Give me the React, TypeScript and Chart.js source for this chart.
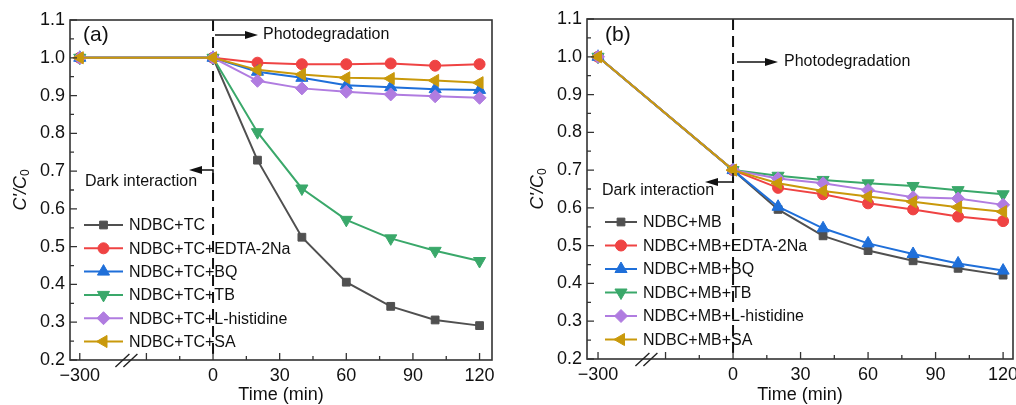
import React, { useEffect, useRef } from 'react';
import { Chart, registerables } from 'chart.js';
Chart.register(...registerables);

const FONT = '"Liberation Sans", Arial, Helvetica, sans-serif';

// sampling times (min); -300 sits on the far side of the axis break
const times = [-300, 0, 20, 40, 60, 80, 100, 120];
const BREAK_AT = -60; // axis position used for t = -300
const xTickPositions = [-60, -30, 0, 30, 60, 90, 120];
const xTickLabels = ['\u2212300', '', '0', '30', '60', '90', '120'];
const xMinorPositions = [-15, 15, 45, 75, 105];
const yTickValues = [0.2, 0.3, 0.4, 0.5, 0.6, 0.7, 0.8, 0.9, 1.0, 1.1];
const yTickLabels = ['0.2', '0.3', '0.4', '0.5', '0.6', '0.7', '0.8', '0.9', '1.0', '1.1'];
const yMinorValues = [0.25, 0.35, 0.45, 0.55, 0.65, 0.75, 0.85, 0.95, 1.05];

// panel (a): TC
const tcLabels = ['NDBC+TC', 'NDBC+TC+EDTA-2Na', 'NDBC+TC+BQ', 'NDBC+TC+TB', 'NDBC+TC+L-histidine', 'NDBC+TC+SA'];
const tcNDBC = [1.0, 1.0, 0.729, 0.525, 0.406, 0.342, 0.306, 0.291];
const tcEDTA = [1.0, 1.0, 0.987, 0.983, 0.983, 0.985, 0.979, 0.983];
const tcBQ = [1.0, 1.0, 0.963, 0.947, 0.927, 0.922, 0.917, 0.915];
const tcTB = [1.0, 1.0, 0.803, 0.654, 0.571, 0.522, 0.489, 0.462];
const tcLH = [1.0, 1.0, 0.939, 0.919, 0.910, 0.903, 0.898, 0.894];
const tcSA = [1.0, 1.0, 0.968, 0.956, 0.947, 0.945, 0.940, 0.934];

// panel (b): MB
const mbLabels = ['NDBC+MB', 'NDBC+MB+EDTA-2Na', 'NDBC+MB+BQ', 'NDBC+MB+TB', 'NDBC+MB+L-histidine', 'NDBC+MB+SA'];
const mbNDBC = [1.0, 0.70, 0.596, 0.526, 0.487, 0.460, 0.440, 0.422];
const mbEDTA = [1.0, 0.70, 0.653, 0.636, 0.612, 0.596, 0.577, 0.565];
const mbBQ = [1.0, 0.70, 0.603, 0.546, 0.506, 0.478, 0.453, 0.434];
const mbTB = [1.0, 0.70, 0.685, 0.674, 0.665, 0.658, 0.647, 0.636];
const mbLH = [1.0, 0.70, 0.678, 0.665, 0.647, 0.628, 0.625, 0.608];
const mbSA = [1.0, 0.70, 0.665, 0.645, 0.630, 0.616, 0.602, 0.590];

const colors = ['#505050', '#EF4343', '#1F6FD9', '#3AA86A', '#B07CE0', '#C9990B'];
const styles = ['rect', 'circle', 'triangle', 'triangle', 'rectRot', 'triangle'];
const rotations = [0, 0, 0, 180, 0, 270];
const radii = [5.5, 5.5, 7, 7, 6.5, 7];

const toAxis = (t: number) => (t < 0 ? BREAK_AT : t);

function drawMarker(ctx: CanvasRenderingContext2D, style: string, x: number, y: number, r: number, rot: number) {
  ctx.beginPath();
  if (style === 'circle') ctx.arc(x, y, r, 0, Math.PI * 2);
  else if (style === 'rect') {
    const s = r * Math.SQRT1_2;
    ctx.rect(x - s, y - s, 2 * s, 2 * s);
  } else if (style === 'rectRot') {
    ctx.moveTo(x, y - r); ctx.lineTo(x + r, y); ctx.lineTo(x, y + r); ctx.lineTo(x - r, y); ctx.closePath();
  } else {
    let a = (rot * Math.PI) / 180;
    ctx.moveTo(x + Math.sin(a) * r, y - Math.cos(a) * r);
    for (let k = 0; k < 2; k++) {
      a += (2 * Math.PI) / 3;
      ctx.lineTo(x + Math.sin(a) * r, y - Math.cos(a) * r);
    }
    ctx.closePath();
  }
  ctx.fill();
  ctx.stroke();
}

function arrowHead(ctx: CanvasRenderingContext2D, tipX: number, y: number, dir: number) {
  ctx.beginPath();
  ctx.moveTo(tipX, y);
  ctx.lineTo(tipX - dir * 13, y - 4);
  ctx.lineTo(tipX - dir * 13, y + 4);
  ctx.closePath();
  ctx.fill();
}

type PanelCfg = {
  labels: string[];
  series: number[][];
  yAxisW: number; xAxisH: number; padT: number; padR: number;
  xMin: number; xMax: number;
  legend: { x0: number; x1: number; tx: number; y0: number; dy: number };
  tag: { text: string; x: number; y: number };
  photo: { y: number; x0: number; x1: number; tx: number };
  dark: { tx: number; ty: number; ay: number; tip: number; cx: number; vend: number };
  title: { x: number; y: number };
  breakAt: number;
};

const panelA: PanelCfg = {
  labels: tcLabels,
  series: [tcNDBC, tcEDTA, tcBQ, tcTB, tcLH, tcSA],
  yAxisW: 70, xAxisH: 45, padT: 20, padR: 16,
  xMin: -64.4, xMax: 125.6,
  legend: { x0: 84, x1: 123, tx: 129, y0: 225, dy: 23.3 },
  tag: { text: '(a)', x: 83, y: 35 },
  photo: { y: 35, x0: 215, x1: 258, tx: 263 },
  dark: { tx: 85, ty: 182, ay: 170, tip: 189, cx: 213, vend: 183 },
  title: { x: 21, y: 190 },
  breakAt: -39,
};

const panelB: PanelCfg = {
  labels: mbLabels,
  series: [mbNDBC, mbEDTA, mbBQ, mbTB, mbLH, mbSA],
  yAxisW: 79, xAxisH: 46, padT: 19, padR: 25,
  xMin: -64.9, xMax: 124.4,
  legend: { x0: 97, x1: 129, tx: 135, y0: 222, dy: 23.5 },
  tag: { text: '(b)', x: 97, y: 35 },
  photo: { y: 62, x0: 229, x1: 270, tx: 276 },
  dark: { tx: 94, ty: 191, ay: 182, tip: 197, cx: 225, vend: 173 },
  title: { x: 30, y: 189 },
  breakAt: -38.5,
};

function makePlugin(p: PanelCfg) {
  return {
    id: 'deco',
    beforeDatasetsDraw(chart: any) {
      const { ctx, chartArea: a, scales } = chart;
      const px = scales.x.getPixelForValue(0);
      ctx.save();
      ctx.strokeStyle = '#111';
      ctx.lineWidth = 2;
      ctx.setLineDash([11, 6]);
      ctx.beginPath();
      ctx.moveTo(px, a.top);
      ctx.lineTo(px, a.bottom);
      ctx.stroke();
      ctx.restore();
    },
    afterDraw(chart: any) {
      const { ctx, chartArea: a, scales } = chart;
      const xs = scales.x, ys = scales.y;
      ctx.save();
      // frame
      ctx.strokeStyle = '#333';
      ctx.lineWidth = 1.6;
      ctx.strokeRect(a.left, a.top, a.right - a.left, a.bottom - a.top);
      // ticks (inside)
      ctx.lineWidth = 1.3;
      ctx.beginPath();
      xTickPositions.forEach((v) => {
        const x = xs.getPixelForValue(v);
        ctx.moveTo(x, a.bottom); ctx.lineTo(x, a.bottom - 7);
      });
      xMinorPositions.forEach((v) => {
        const x = xs.getPixelForValue(v);
        ctx.moveTo(x, a.bottom); ctx.lineTo(x, a.bottom - 4);
      });
      yTickValues.forEach((v) => {
        const y = ys.getPixelForValue(v);
        ctx.moveTo(a.left, y); ctx.lineTo(a.left + 7, y);
      });
      yMinorValues.forEach((v) => {
        const y = ys.getPixelForValue(v);
        ctx.moveTo(a.left, y); ctx.lineTo(a.left + 4, y);
      });
      ctx.stroke();
      // axis break marks
      const bx = xs.getPixelForValue(p.breakAt);
      ctx.strokeStyle = '#222';
      ctx.lineWidth = 1.4;
      ctx.beginPath();
      [-4, 4].forEach((o) => {
        ctx.moveTo(bx + o - 7, a.bottom + 7);
        ctx.lineTo(bx + o + 7, a.bottom - 6);
      });
      ctx.stroke();

      // y title
      ctx.fillStyle = '#111';
      ctx.save();
      ctx.translate(p.title.x, p.title.y);
      ctx.rotate(-Math.PI / 2);
      const mainFont = `italic 18px ${FONT}`;
      const subFont = `12px ${FONT}`;
      ctx.font = mainFont;
      const w1 = ctx.measureText("C'/C").width;
      ctx.font = subFont;
      const w2 = ctx.measureText('0').width;
      const start = -(w1 + w2) / 2;
      ctx.textBaseline = 'middle';
      ctx.textAlign = 'left';
      ctx.font = mainFont;
      ctx.fillText("C'/C", start, 0);
      ctx.font = subFont;
      ctx.fillText('0', start + w1, 5);
      ctx.restore();

      // x title
      ctx.font = `18px ${FONT}`;
      ctx.textAlign = 'center';
      ctx.textBaseline = 'middle';
      ctx.fillText('Time (min)', (a.left + a.right) / 2 - 0, 395);

      // panel tag
      ctx.font = `21px ${FONT}`;
      ctx.textAlign = 'left';
      ctx.fillText(p.tag.text, p.tag.x, p.tag.y);

      // photodegradation arrow
      ctx.strokeStyle = '#111';
      ctx.lineWidth = 1.5;
      ctx.beginPath();
      ctx.moveTo(p.photo.x0, p.photo.y);
      ctx.lineTo(p.photo.x1 - 8, p.photo.y);
      ctx.stroke();
      arrowHead(ctx, p.photo.x1, p.photo.y, 1);
      ctx.font = `16px ${FONT}`;
      ctx.fillText('Photodegradation', p.photo.tx, p.photo.y);

      // dark interaction arrow
      ctx.beginPath();
      ctx.moveTo(p.dark.cx, p.dark.vend);
      ctx.lineTo(p.dark.cx, p.dark.ay);
      ctx.lineTo(p.dark.tip + 8, p.dark.ay);
      ctx.stroke();
      arrowHead(ctx, p.dark.tip, p.dark.ay, -1);
      ctx.fillText('Dark interaction', p.dark.tx, p.dark.ty);

      // legend
      p.labels.forEach((lab, i) => {
        const y = p.legend.y0 + i * p.legend.dy;
        ctx.strokeStyle = colors[i];
        ctx.fillStyle = colors[i];
        ctx.lineWidth = 2;
        ctx.beginPath();
        ctx.moveTo(p.legend.x0, y);
        ctx.lineTo(p.legend.x1, y);
        ctx.stroke();
        ctx.lineWidth = 1;
        drawMarker(ctx, styles[i], (p.legend.x0 + p.legend.x1) / 2, y, radii[i], rotations[i]);
        ctx.fillStyle = '#111';
        ctx.font = `16px ${FONT}`;
        ctx.textAlign = 'left';
        ctx.textBaseline = 'middle';
        ctx.fillText(lab, p.legend.tx, y + 1);
      });
      ctx.restore();
    },
  };
}

function buildConfig(p: PanelCfg): any {
  return {
    type: 'line',
    data: {
      datasets: p.series.map((vals, i) => ({
        label: p.labels[i],
        data: times.map((t, k) => ({ x: toAxis(t), y: vals[k] })),
        borderColor: colors[i],
        backgroundColor: colors[i],
        borderWidth: 2,
        pointStyle: styles[i],
        pointRotation: rotations[i],
        pointRadius: radii[i],
        pointBorderWidth: 1,
        pointBorderColor: colors[i],
        pointBackgroundColor: colors[i],
        tension: 0,
        fill: false,
        order: -i,
      })),
    },
    options: {
      responsive: false,
      animation: false,
      devicePixelRatio: 1,
      events: [],
      layout: { padding: { left: 0, right: p.padR, top: p.padT, bottom: 0 } },
      plugins: { legend: { display: false }, tooltip: { enabled: false } },
      scales: {
        x: {
          type: 'linear',
          min: p.xMin,
          max: p.xMax,
          afterBuildTicks: (s: any) => {
            s.ticks = xTickPositions.map((v) => ({ value: v }));
          },
          afterFit: (s: any) => {
            s.height = p.xAxisH;
          },
          ticks: {
            autoSkip: false,
            maxRotation: 0,
            padding: 5,
            color: '#111',
            font: { size: 18, family: FONT },
            callback: (_v: any, i: number) => xTickLabels[i],
          },
          grid: { display: false, drawTicks: false },
          border: { display: false },
        },
        y: {
          type: 'linear',
          min: 0.2,
          max: 1.1,
          afterBuildTicks: (s: any) => {
            s.ticks = yTickValues.map((v) => ({ value: v }));
          },
          afterFit: (s: any) => {
            s.width = p.yAxisW;
          },
          ticks: {
            padding: 5,
            color: '#111',
            font: { size: 18, family: FONT },
            callback: (_v: any, i: number) => yTickLabels[i],
          },
          grid: { display: false, drawTicks: false },
          border: { display: false },
        },
      },
    },
    plugins: [makePlugin(p)],
  };
}

export default function App() {
  const refA = useRef<HTMLCanvasElement>(null);
  const refB = useRef<HTMLCanvasElement>(null);
  useEffect(() => {
    const ca = new Chart(refA.current as HTMLCanvasElement, buildConfig(panelA));
    const cb = new Chart(refB.current as HTMLCanvasElement, buildConfig(panelB));
    return () => {
      ca.destroy();
      cb.destroy();
    };
  }, []);
  return (
    <div style={{ position: 'absolute', left: 0, top: 0, width: 1016, height: 405, overflow: 'hidden', background: '#fff' }}>
      <canvas ref={refA} width={508} height={405} style={{ position: 'absolute', left: 0, top: 0 }} />
      <canvas ref={refB} width={530} height={405} style={{ position: 'absolute', left: 508, top: 0 }} />
    </div>
  );
}
